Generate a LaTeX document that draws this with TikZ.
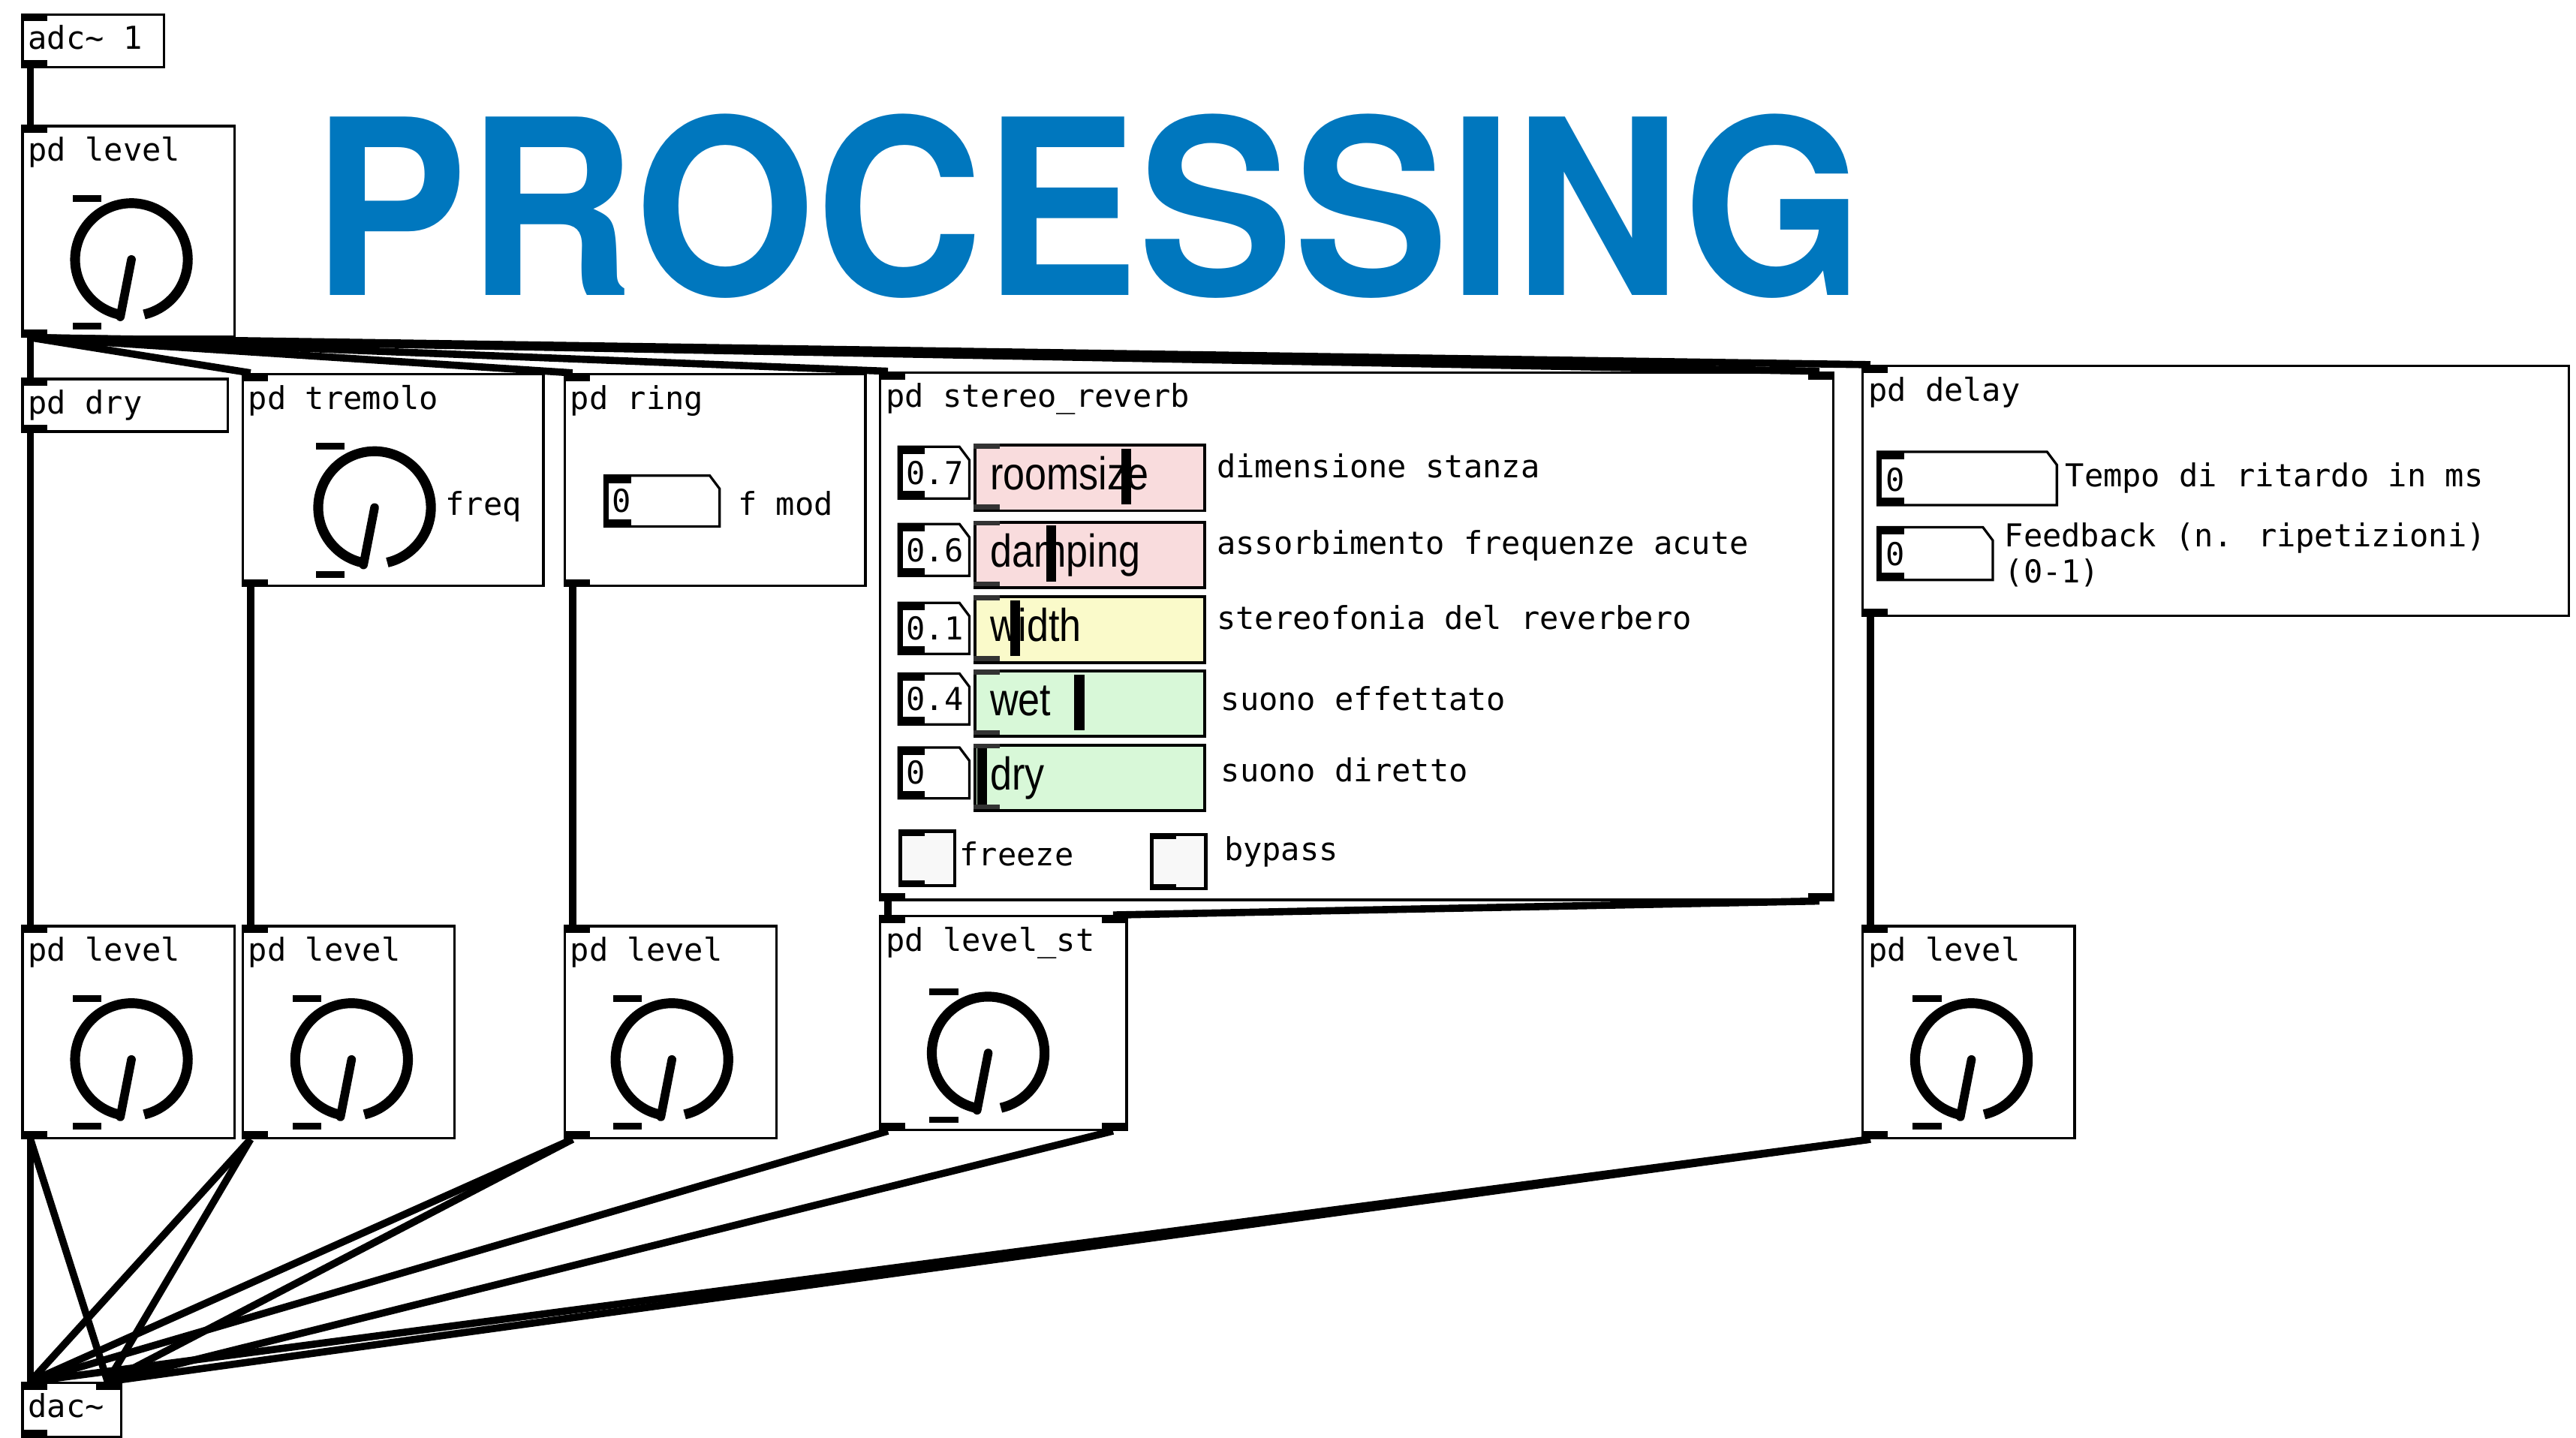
\documentclass[tikz,border=0pt]{standalone}
\usepackage{fontspec}
\usepackage{graphicx}
\newfontfamily\pdfont{DejaVu Sans Mono}
\newfontfamily\lbfont{Liberation Sans}
\newfontfamily\ttlfont{TeX Gyre Heros}
\usetikzlibrary{calc}
\definecolor{ttlblue}{RGB}{0,119,190}
\definecolor{spink}{RGB}{249,220,221}
\definecolor{syellow}{RGB}{250,250,202}
\definecolor{sgreen}{RGB}{216,248,216}
\definecolor{tglfill}{RGB}{248,248,248}
\tikzset{
  pdbox/.style={draw, line width=1.5pt, inner sep=0pt, anchor=north west},
  pdtxt/.style={anchor=base west, inner sep=0pt, font=\pdfont\fontsize{19.2}{19.2}\selectfont},
  lbl/.style={anchor=base west, inner sep=0pt, font=\lbfont\fontsize{28}{28}\selectfont},
  sig/.style={line width=4.4pt},
}
% box with one inlet and one outlet on the left
\newcommand\pdobj[6]{%
  \node[pdbox, minimum width=#4pt, minimum height=#5pt] (#1) at (#2,#3) {};
  \node[pdtxt] (#1-t) at ($(#1.north west)+(4,22)$) {#6};
  \coordinate (#1-in) at ($(#1.north west)+(5.5,0)$);
  \coordinate (#1-out) at ($(#1.south west)+(5.5,0)$);
  \fill (#1.north west) rectangle ++(16,5);
  \fill (#1.south west) rectangle ++(16,-5);
}
\newcommand\rin[1]{%
  \fill ($(#1.north east)+(-16,0)$) rectangle ++(16,5);
  \coordinate (#1-inR) at ($(#1.north east)+(-9,0)$);
}
\newcommand\rout[1]{%
  \fill ($(#1.south east)+(-16,0)$) rectangle ++(16,-5);
  \coordinate (#1-outR) at ($(#1.south east)+(-9,0)$);
}
% knob
\newcommand\knob[3]{%
  \coordinate (#1) at (#2,#3);
  \draw[line width=6pt] ($(#1)+(101:34.3)$) arc[start angle=101, end angle=437, radius=34.3];
  \draw[line width=5.3pt, line cap=round] (#1) -- ++(101:35.5);
  \fill ($(#1)+(-35.8,-39.4)$) rectangle ++(17.5,4.2);
  \fill ($(#1)+(-35.8,38.6)$) rectangle ++(17.5,4);
}
% number box
\newcommand\numbox[6]{%
  \draw[line width=1.5pt, fill=white] (#2,#3) -- ++(#4-6,0) -- ++(6,8) -- ++(0,#5-8) -- ++(-#4,0) -- cycle;
  \fill (#2,#3) rectangle ++(16,4.5);
  \fill (#2,#3+#5) rectangle ++(16,-4.5);
  \fill (#2,#3) rectangle ++(2.5,#5);
  \node[pdtxt] (#1) at (#2+4.5,#3+#5-8.7) {#6};
}
% slider
\newcommand\slider[8]{%
  \node[draw, line width=1.8pt, fill=#6, minimum width=#4pt, minimum height=#5pt, inner sep=0pt, anchor=north west] (#1) at (#2,#3) {};
  \fill[black!80] (#2,#3) rectangle ++(16,3);
  \fill[black!80] (#2,#3+#5) rectangle ++(16,-3);
  \node[lbl] (#1-t) at (#2+10,#3+28) {\scalebox{0.85}[1]{#7}};
  \fill (#8,#3+3) rectangle ++(6,#5-6);
}
\begin{document}
\begin{tikzpicture}[x=1pt, y=-1pt]
\useasboundingbox[fill=white] (0,0) rectangle (1568,875);

% title
\node[anchor=base west, inner sep=0pt, text=ttlblue, font=\ttlfont\bfseries\fontsize{149}{149}\selectfont] (title) at (190,180) {\scalebox{0.95}[1]{PROCESSING}};

% objects
\pdobj{adc}{13}{8}{86}{32}{adc\textasciitilde{} 1}
\pdobj{levelA}{13}{76}{129}{128}{pd level}
\knob{kA}{80}{158}
\pdobj{dry}{13}{230}{125}{32}{pd dry}
\pdobj{trem}{147}{227}{183}{129}{pd tremolo}
\knob{kT}{228}{309}
\node[pdtxt] (freq) at (271,313.5) {freq};
\pdobj{ring}{343}{227}{183}{129}{pd ring}
\numbox{ringnum}{368}{289.5}{70}{31}{0}
\node[pdtxt] (fmod) at (449,313.5) {f mod};

\pdobj{rev}{535}{226}{580}{321}{pd stereo\_reverb}
\rin{rev}\rout{rev}
\numbox{n1}{547}{272}{43}{31.5}{0.7}
\numbox{n2}{547}{319}{43}{31.5}{0.6}
\numbox{n3}{547}{367}{43}{31}{0.1}
\numbox{n4}{547}{410}{43}{31}{0.4}
\numbox{n5}{547}{455}{43}{31}{0}
\slider{s1}{592.5}{270}{140}{40}{spink}{roomsize}{682.5}
\slider{s2}{592.5}{317}{140}{40}{spink}{damping}{637}
\slider{s3}{592.5}{362.5}{140}{40}{syellow}{width}{615}
\slider{s4}{592.5}{407.5}{140}{40}{sgreen}{wet}{654}
\slider{s5}{592.5}{452.7}{140}{40}{sgreen}{dry}{595}
\node[pdtxt] (l1) at (740.5,290.8) {dimensione stanza};
\node[pdtxt] (l2) at (740.5,337.4) {assorbimento frequenze acute};
\node[pdtxt] (l3) at (740.5,383) {stereofonia del reverbero};
\node[pdtxt] (l4) at (743,432.6) {suono effettato};
\node[pdtxt] (l5) at (743,476) {suono diretto};
\node[draw, line width=2pt, fill=tglfill, minimum width=33pt, minimum height=33pt, inner sep=0pt, anchor=north west] (frz) at (547,505) {};
\fill (frz.north west) rectangle ++(16,4);
\fill (frz.south west) rectangle ++(16,-4);
\node[pdtxt] (frzt) at (584,527) {freeze};
\node[draw, line width=2pt, fill=tglfill, minimum width=33pt, minimum height=33pt, inner sep=0pt, anchor=north west] (byp) at (700,507) {};
\fill (byp.north west) rectangle ++(16,4);
\fill (byp.south west) rectangle ++(16,-4);
\node[pdtxt] (bypt) at (745,523.6) {bypass};

\pdobj{delay}{1133}{222}{430}{152}{pd delay}
\numbox{d1}{1143}{275}{109}{32.5}{0}
\numbox{d2}{1143}{321}{70}{32}{0}
\node[pdtxt] (dt1) at (1257,296.5) {Tempo di ritardo in ms};
\node[pdtxt] (dt2) at (1220,333) {Feedback (n. ripetizioni)};
\node[pdtxt] (dt3) at (1220,354.6) {(0-1)};

\pdobj{lev1}{13}{563}{129}{129}{pd level}
\knob{k1}{80}{645}
\pdobj{lev2}{147}{563}{129}{129}{pd level}
\knob{k2}{214}{645}
\pdobj{lev3}{343}{563}{129}{129}{pd level}
\knob{k3}{409}{645}
\pdobj{levst}{535}{557}{150}{130}{pd level\_st}
\rin{levst}\rout{levst}
\knob{kst}{601.5}{641}
\pdobj{levR}{1133}{563}{129}{129}{pd level}
\knob{kR}{1200}{645}

\pdobj{dac}{13}{841}{60}{33}{dac\textasciitilde}
\rin{dac}

% connections
\draw[sig] (adc-out) -- (levelA-in);
\draw[sig] (levelA-out) -- (dry-in);
\draw[sig] (levelA-out) -- (trem-in);
\draw[sig] (levelA-out) -- (ring-in);
\draw[sig] (levelA-out) -- (rev-in);
\draw[sig] (levelA-out) -- (rev-inR);
\draw[sig] (levelA-out) -- (delay-in);
\draw[sig] (dry-out) -- (lev1-in);
\draw[sig] (trem-out) -- (lev2-in);
\draw[sig] (ring-out) -- (lev3-in);
\draw[sig] (rev-out) -- (levst-in);
\draw[sig] (rev-outR) -- (levst-inR);
\draw[sig] (delay-out) -- (levR-in);
\foreach \s in {lev1,lev2,lev3,levR}{
  \draw[sig] (\s-out) -- (dac-in);
  \draw[sig] (\s-out) -- (dac-inR);
}
\draw[sig] (levst-out) -- (dac-in);
\draw[sig] (levst-outR) -- (dac-inR);
\end{tikzpicture}
\end{document}
